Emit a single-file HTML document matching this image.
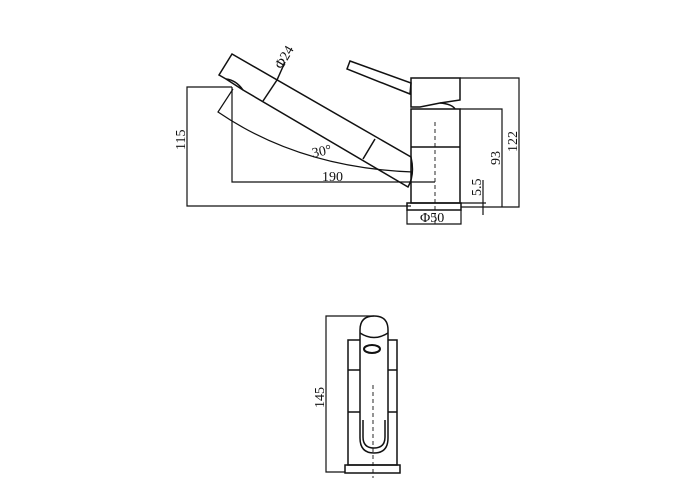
<!DOCTYPE html>
<html><head><style>body{margin:0;background:#fff}svg{display:block}text{font-family:"Liberation Serif",serif;font-size:14px;fill:#111;stroke:none}</style></head>
<body>
<svg width="700" height="500" viewBox="0 0 700 500" xmlns="http://www.w3.org/2000/svg" fill="none" stroke="#111" stroke-width="1.5">
<!-- side view body -->
<path d="M411 78 H460 V100 L440 103 L420 107 L411 107 Z"/>
<path d="M440 103 Q452 104 455 109"/>
<rect x="411" y="109" width="49" height="94"/>
<line x1="411" y1="147" x2="460" y2="147"/>
<rect x="407" y="203" width="54" height="7"/>
<!-- lever -->
<path d="M350 61 L347 69 L410 94 L411 83 Z"/>
<!-- spout -->
<path d="M232 54 L219 75 L226 79 L243 90 L408 187 Q415 175 411 157 L232 54 Z"/>
<path d="M226 79 Q236 80 243 90"/>
<line x1="263" y1="101" x2="277" y2="80"/>
<line x1="363" y1="159" x2="375" y2="139"/>
<line x1="277" y1="80" x2="285" y2="62"/>
<text x="0" y="0" transform="translate(282,70) rotate(-60)">Φ24</text>
<!-- swung spout -->
<path d="M233 89 L218 112 Q300 168 413 172" stroke-width="1.2"/>
<!-- 190 -->
<path d="M232 87 V182 H435" stroke-width="1.2"/>
<text x="322" y="181">190</text>
<text x="312" y="156" transform="rotate(-12 320 152)">30°</text>
<!-- 115 -->
<path d="M232 87 H187 V206 H411" stroke-width="1.2"/>
<text transform="translate(185,150) rotate(-90)">115</text>
<!-- 122 -->
<path d="M460 78 H519 V207 H461" stroke-width="1.2"/>
<text transform="translate(517,152) rotate(-90)">122</text>
<!-- 93 -->
<path d="M460 109 H502 V207" stroke-width="1.2"/>
<text transform="translate(500,165) rotate(-90)">93</text>
<!-- 5.5 -->
<path d="M483 180 V215 M461 203 H486" stroke-width="1.2"/>
<text transform="translate(481,196) rotate(-90)">5.5</text>
<!-- Φ50 -->
<path d="M407 210 V224 H461 V210" stroke-width="1.2"/>
<text x="420" y="222">Φ50</text>
<line x1="435" y1="122" x2="435" y2="226" stroke-dasharray="4 3" stroke-width="0.9"/>
<!-- front view -->
<rect x="348" y="340" width="49" height="125"/>
<line x1="348" y1="370" x2="397" y2="370"/>
<line x1="348" y1="412" x2="397" y2="412"/>
<rect x="345" y="465" width="55" height="8"/>
<path d="M360 330 Q360 316 374 316 Q388 316 388 330 V438 Q388 453 374 453 Q360 453 360 438 Z" fill="#fff"/>
<path d="M360 333 Q374 342 388 333"/>
<path d="M363 420 V437 Q363 448 374 448 Q385 448 385 437 V420"/>
<ellipse cx="372" cy="349" rx="8" ry="4" stroke-width="2"/>
<line x1="373" y1="385" x2="373" y2="478" stroke-dasharray="4 3" stroke-width="0.9"/>
<path d="M374 316 H326 V472 H345" stroke-width="1.2"/>
<text transform="translate(324,408) rotate(-90)">145</text>
</svg>
</body></html>
